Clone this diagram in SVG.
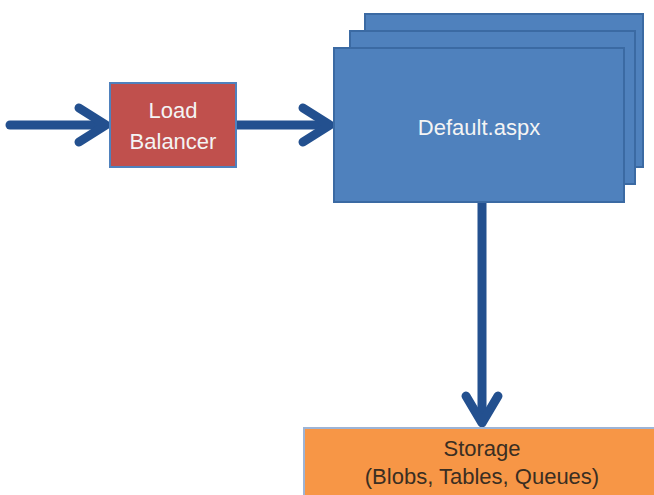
<svg xmlns="http://www.w3.org/2000/svg" width="654" height="495" viewBox="0 0 654 495">
<style>
.conn{fill:none;stroke:#23508F;stroke-width:9;stroke-linecap:round;stroke-linejoin:round}
.page{fill:#4F81BD;stroke:#3B6AA3;stroke-width:2}
.wt{font-family:"Liberation Sans",Arial,sans-serif;font-size:22px;fill:#F4F4F4;text-anchor:middle}
.dt{font-family:"Liberation Sans",Arial,sans-serif;font-size:22px;fill:#3A2E22;text-anchor:middle}
</style>
<rect width="654" height="495" fill="#FFFFFF"/>
<g id="connectors">
<line class="conn" x1="10" y1="125" x2="104" y2="125"/>
<polyline class="conn" points="79,108 106,125 79,142"/>
<line class="conn" x1="237" y1="125" x2="328" y2="125"/>
<polyline class="conn" points="303,108 330,125 303,142"/>
<line class="conn" x1="482" y1="203" x2="482" y2="421"/>
<polyline class="conn" points="466,396 482,423 498,396"/>
</g>
<g id="load-balancer">
<rect x="110" y="83" width="126" height="84" fill="#C0504D" stroke="#4F81BD" stroke-width="2"/>
<text class="wt" x="173" y="118">Load</text>
<text class="wt" x="173" y="149">Balancer</text>
</g>
<g id="default-aspx">
<rect class="page" x="365" y="14" width="278" height="153"/>
<rect class="page" x="350" y="31" width="285" height="153"/>
<rect class="page" x="334" y="48" width="290" height="154"/>
<text class="wt" x="479" y="135">Default.aspx</text>
</g>
<g id="storage">
<rect x="304" y="428" width="360" height="80" fill="#F79646" stroke="#9DB4D6" stroke-width="2"/>
<text class="dt" x="482" y="456">Storage</text>
<text class="dt" x="482" y="484">(Blobs, Tables, Queues)</text>
</g>
</svg>
